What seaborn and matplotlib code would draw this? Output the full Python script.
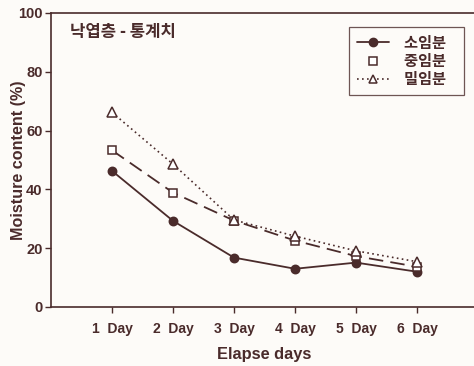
import matplotlib
matplotlib.use("Agg")
import matplotlib.pyplot as plt
from matplotlib.lines import Line2D
import seaborn as sns
import pandas as pd

days = ["1  Day", "2  Day", "3  Day", "4  Day", "5  Day", "6  Day"]
small = [46.3, 29.3, 16.8, 13.0, 15.1, 12.0]    # 소임분
medium = [53.3, 38.9, 29.4, 22.6, 17.3, 13.7]   # 중임분
dense = [66.2, 48.6, 29.6, 24.1, 19.1, 15.4]    # 밀임분
series_names = ["소임분", "중임분", "밀임분"]

sns.set_theme(style="white")
plt.rcParams["font.family"] = ["Liberation Sans", "Noto Sans CJK KR", "DejaVu Sans"]

ink = "#4a2b2b"
bg = "#fdfbf8"
fig = plt.figure(figsize=(4.74, 3.66), dpi=100)
fig.patch.set_facecolor(bg)
ax = fig.add_axes([51 / 474, 1 - 307 / 366, 427 / 474, 294 / 366])
ax.set_facecolor(bg)

pos = list(range(1, len(days) + 1))
df = pd.DataFrame({"pos": pos * 3,
                   "val": small + medium + dense,
                   "grp": sum([[n] * len(days) for n in series_names], [])})

styles = {
    "소임분": dict(ls="-", marker="o", mfc=ink, lw=1.3, ms=6),
    "중임분": dict(ls=(0, (8, 4)), marker="s", mfc="white", lw=1.3, ms=6),
    "밀임분": dict(ls=(0, (1, 2)), marker="^", mfc="white", lw=1.2, ms=6.5),
}
for name in series_names:
    st = styles[name]
    sub = df[df["grp"] == name]
    sns.lineplot(data=sub, x="pos", y="val", ax=ax, color=ink,
                 linestyle=st["ls"], linewidth=st["lw"], marker=st["marker"],
                 markersize=st["ms"], markerfacecolor=st["mfc"],
                 markeredgecolor=ink, markeredgewidth=1.1, legend=False)

ax.set_xlim(0, 7)
ax.set_ylim(0, 100)
ax.set_xticks(pos)
ax.set_xticklabels(days, fontsize=10, fontweight="bold", color=ink)
ax.set_yticks([0, 20, 40, 60, 80, 100])
ax.set_yticklabels(["0", "20", "40", "60", "80", "100"], fontsize=10.5,
                   fontweight="bold", color=ink)
ax.tick_params(axis="both", which="major", direction="out", length=4,
               width=1, color=ink, bottom=True, left=True)
ax.tick_params(axis="x", pad=7)
ax.tick_params(axis="y", pad=2)
for side in ["left", "bottom", "top"]:
    ax.spines[side].set_color(ink)
    ax.spines[side].set_linewidth(1.2)
ax.spines["right"].set_visible(False)

ax.set_xlabel("Elapse days", fontsize=11.8, fontweight="bold", color=ink,
              labelpad=8)
ax.set_ylabel("Moisture content (%)", fontsize=11.6, fontweight="bold",
              color=ink)
ax.yaxis.set_label_coords(-0.058, 0.5)

ax.text(0.045, 0.935, "낙엽층 - 통계치", transform=ax.transAxes,
        fontsize=12, fontweight="bold", color=ink, va="center",
        family=["Noto Sans CJK KR", "DejaVu Sans"])

handles = [
    Line2D([], [], color=ink, ls="-", lw=1.3, marker="o", ms=6,
           mfc=ink, mec=ink),
    Line2D([], [], color=ink, ls="none", marker="s", ms=5.5,
           mfc="white", mec=ink, mew=1.1),
    Line2D([], [], color=ink, ls=(0, (1, 2)), lw=1.2, marker="^", ms=6,
           mfc="white", mec=ink, mew=1.1),
]
leg = ax.legend(handles, [n + "   " for n in series_names], loc="upper right",
                bbox_to_anchor=((464 - 51) / 427, 1 - 14 / 294),
                frameon=True, fancybox=False, handlelength=2.1,
                prop={"family": ["Noto Sans CJK KR", "DejaVu Sans"],
                      "weight": "bold", "size": 11},
                labelspacing=0.15, borderpad=0.5, handletextpad=1.0,
                borderaxespad=0)
leg.get_frame().set_edgecolor(ink)
leg.get_frame().set_linewidth(0.9)
leg.get_frame().set_facecolor(bg)
for t in leg.get_texts():
    t.set_color(ink)

fig.savefig("out.png", dpi=100, facecolor=fig.get_facecolor())
